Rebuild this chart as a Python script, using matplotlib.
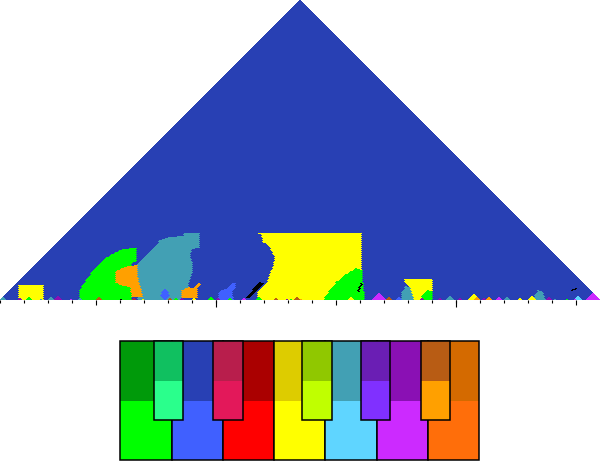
import matplotlib

matplotlib.use("Agg")
import matplotlib.pyplot as plt
import numpy as np
from matplotlib.colors import to_rgb
from matplotlib.patches import Rectangle
from matplotlib.path import Path

# keyscape over 300 time slices; cell = (window centre in slices, window length in slices)
N_SLICES = 300

KEY_NAMES = ["C", "C#", "D", "Eb", "E", "F", "F#", "G", "Ab", "A", "Bb", "B"]
MAJOR_COLOURS = ["#00ff00", "#2aff8c", "#4060ff", "#e3185a", "#ff0000", "#ffff00",
                 "#c0ff00", "#5fd5ff", "#8030ff", "#cc2aff", "#ffa000", "#ff6e0a"]
MINOR_COLOURS = ["#009a0a", "#10c060", "#2840b4", "#b81e4c", "#aa0000", "#ddcc00",
                 "#90c800", "#42a0b4", "#6a1eb4", "#8a10b4", "#b85c14", "#d46a00"]

BACKGROUND_KEY = "d"

# larger areas, vertices as (window centre, window length)
REGIONS = [
    ("C", [(39.5, 0), (39.5, 8), (41, 14), (44, 23), (48.5, 34), (52, 41), (56, 46),
           (61, 51), (68.5, 52), (68.5, 40), (66, 36), (66, 0)]),
    ("g", [(91.5, 67), (100, 67), (100, 52), (96, 51), (95, 43), (96.5, 37), (96, 27),
           (94, 13), (91, 8), (91, 0), (69, 0), (68.5, 35), (73.5, 45), (77.5, 53),
           (80, 60), (85, 63), (91.5, 64)]),
    ("Bb", [(57.5, 28), (62, 33), (68.5, 35), (69, 22), (71.5, 3), (66, 3), (65, 13),
            (60, 15), (57.5, 18)]),
    ("F", [(128.5, 67), (181, 67), (181, 0), (128.5, 0), (129, 8), (131, 13), (133.5, 18),
           (135, 27), (136.5, 33), (137.5, 43), (136, 48), (134, 55), (131.5, 58), (130.8, 65)]),
    ("C", [(161.5, 0), (165, 10), (168.3, 18.3), (172.5, 25), (176.5, 30), (177.8, 31.7),
           (181.5, 30), (181.5, 18), (182.5, 0)]),
    ("F", [(9, 0), (9, 15), (22, 15), (22, 0)]),
    ("Bb", [(90.5, 2), (91, 10), (94, 13), (97, 12), (99.5, 17), (100.5, 16), (98.5, 10), (99, 2)]),
    ("D", [(82.5, 12), (80, 5), (82.5, 0), (85, 5)]),
    ("D", [(109, 0), (109, 7), (111, 10), (114, 12), (116, 17), (118, 17), (118, 12),
           (116, 8), (117, 0)]),
    ("-", [(122.5, 2), (130, 18), (132, 17), (124.5, 2)]),
    ("-", [(178.5, 8), (180.5, 18), (181.5, 17), (179.5, 8)]),
    ("F", [(201.5, 20.7), (216.3, 20.7), (216.3, 0), (205, 0), (204, 15)]),
    ("g", [(200.5, 0), (201, 8), (203, 15), (205, 12), (207, 0)]),
    ("C", [(209.5, 0), (212, 6), (214, 10), (216.5, 8), (216.5, 0)]),
    ("g", [(266.5, 0), (268, 7), (269, 10), (271, 9), (273, 0)]),
    ("-", [(285.5, 8), (286, 11), (288.5, 12), (288.5, 10.5), (287, 9.5)]),
]

# short local keys: windows inside [start, end], optionally capped in length
SPANS = [
    ("g", 0, 3, None), ("a", 9, 11.5, None), ("C", 12.5, 16, None), ("g", 19.5, 21, None),
    ("g", 24, 27, None), ("a", 27, 31.5, None), ("A", 35, 36, None), ("g", 39, 41, None),
    ("bb", 48, 51, None), ("-", 60, 61.5, None), ("eb", 65.5, 68, None), ("F", 70.5, 72.5, None),
    ("bb", 84, 86.5, None), ("C", 86.5, 89, None), ("a", 90, 92, None), ("F", 96, 98.5, None),
    ("C", 104, 107.5, None), ("a", 107.5, 110, None), ("C", 114, 116.5, None),
    ("A", 121, 123.5, None), ("C", 127.5, 131.5, None), ("Bb", 132.5, 133.5, None),
    ("bb", 137, 139.5, None), ("a", 142.5, 144.5, None), ("C", 145, 146.5, None),
    ("bb", 146.5, 150, None), ("Bb", 150, 151.5, None), ("F", 174, 177.5, None),
    ("A", 186, 193, None), ("bb", 192.5, 196.5, None), ("D", 198, 201, None),
    ("a", 209.5, 212, None), ("a", 219, 221, None), ("g", 222.5, 227, 7),
    ("a", 228.5, 231, None), ("F", 234, 240.5, 8), ("Bb", 237, 240.5, None),
    ("a", 241, 243, None), ("Bb", 243, 246.5, 5), ("A", 248, 251, None),
    ("g", 252, 255.5, 4), ("F", 259, 261, None), ("F", 264, 268, 7),
    ("a", 273, 276.5, None), ("g", 276.5, 278.5, None), ("C", 282.5, 284.5, None),
    ("G", 286.5, 291.5, 7), ("A", 286.5, 288.5, None), ("A", 293, 300, None),
]

WHITE_KEYS = ["C", "D", "E", "F", "G", "A", "B"]
BLACK_KEYS = ["C#", "Eb", "F#", "Ab", "Bb"]
BLACK_KEY_STARTS = [0.649, 1.816, 3.547, 4.686, 5.861]


def key_colour(key: str):
    if key == "-":
        return (0.0, 0.0, 0.0)
    idx = KEY_NAMES.index(key[0].upper() + key[1:])
    return to_rgb(MAJOR_COLOURS[idx] if key[0].isupper() else MINOR_COLOURS[idx])


def build_keyscape() -> np.ndarray:
    starts, lengths = [], []
    for length in range(1, N_SLICES + 1):
        s = np.arange(0, N_SLICES - length + 1)
        starts.append(s)
        lengths.append(np.full(s.size, length))
    starts = np.concatenate(starts)
    lengths = np.concatenate(lengths)
    centres = starts + lengths / 2
    labels = np.full(starts.size, BACKGROUND_KEY, dtype=object)

    pts = np.column_stack([centres, lengths - 0.5])
    for key, verts in REGIONS:
        labels[Path(verts).contains_points(pts)] = key
    for key, a, b, cap in SPANS:
        mask = (starts >= a) & (starts + lengths <= b)
        if cap is not None:
            mask &= lengths <= cap
        labels[mask] = key

    img = np.ones((N_SLICES, 2 * N_SLICES, 3))
    rows = N_SLICES - lengths
    cols = 2 * starts + lengths - 1
    rgb = np.array([key_colour(k) for k in labels])
    img[rows, cols] = rgb
    img[rows, cols + 1] = rgb
    return img


fig = plt.figure(figsize=(6, 4.61), dpi=100)

ax = fig.add_axes([0, 161 / 461, 1, 300 / 461])
ax.imshow(build_keyscape(), extent=(0, N_SLICES, 0, N_SLICES), interpolation="nearest", aspect="auto")
ax.set_xlim(0, N_SLICES)
ax.set_ylim(0, N_SLICES)
for spine in ax.spines.values():
    spine.set_visible(False)
ax.set_yticks([])
ax.set_xticks([48, 168, 288])
ax.set_xticks(np.arange(0, N_SLICES, 12), minor=True)
ax.tick_params(axis="x", which="major", length=3.6, width=0.8, labelbottom=False)
ax.tick_params(axis="x", which="minor", length=2.2, width=0.8)
sec = ax.secondary_xaxis("bottom")
sec.set_xticks([108, 228])
sec.tick_params(length=5.0, width=0.8, labelbottom=False)
sec.spines["bottom"].set_visible(False)

kb = fig.add_axes([120.3 / 600, 1 / 461, 359 / 600, 118.7 / 461])
kb.set_xlim(0, 7)
kb.set_ylim(0, 1)
kb.axis("off")
for i, name in enumerate(WHITE_KEYS):
    idx = KEY_NAMES.index(name)
    kb.add_patch(Rectangle((i, 0), 1, 0.5, facecolor=MAJOR_COLOURS[idx], edgecolor="none"))
    kb.add_patch(Rectangle((i, 0.5), 1, 0.5, facecolor=MINOR_COLOURS[idx], edgecolor="none"))
    kb.add_patch(Rectangle((i, 0), 1, 1, facecolor="none", edgecolor="black", lw=1.1, clip_on=False))
for start, name in zip(BLACK_KEY_STARTS, BLACK_KEYS):
    idx = KEY_NAMES.index(name)
    kb.add_patch(Rectangle((start, 0.337), 0.576, 0.329, facecolor=MAJOR_COLOURS[idx], edgecolor="none"))
    kb.add_patch(Rectangle((start, 0.666), 0.576, 0.334, facecolor=MINOR_COLOURS[idx], edgecolor="none"))
    kb.add_patch(Rectangle((start, 0.337), 0.576, 0.663, facecolor="none", edgecolor="black", lw=1.1, clip_on=False))

fig.savefig("out.png", dpi=100)
